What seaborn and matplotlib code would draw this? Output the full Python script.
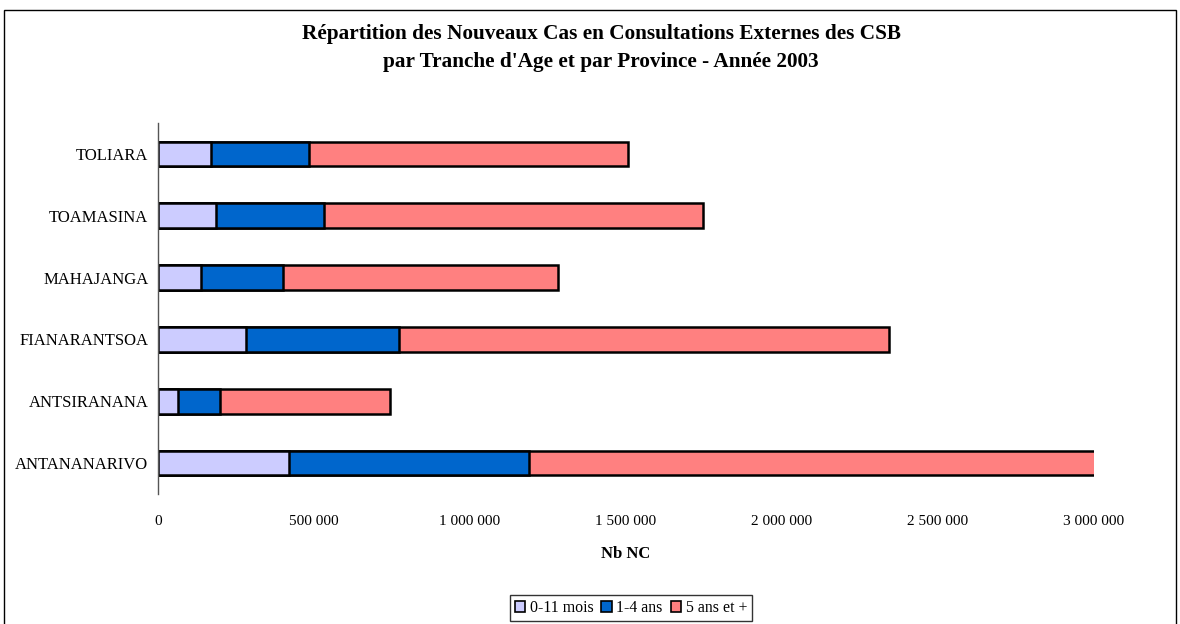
import numpy as np
import pandas as pd
import matplotlib
matplotlib.use("Agg")
import matplotlib.pyplot as plt
import matplotlib.patches as mpatches
import matplotlib.ticker as mticker
import seaborn as sns

# values (new cases per age group, 2003)
provinces = ["ANTANANARIVO", "ANTSIRANANA", "FIANARANTSOA", "MAHAJANGA", "TOAMASINA", "TOLIARA"]
mois_0_11 = [420000, 65000, 282000, 137000, 185000, 171000]
ans_1_4 = [770000, 134000, 490000, 263000, 346000, 313000]
ans_5_plus = [1830000, 545000, 1570000, 881000, 1215000, 1022000]

series_labels = ["0-11 mois", "1-4 ans", "5 ans et +"]
colors = ["#CCCCFF", "#0066CC", "#FF8080"]

df = pd.DataFrame({"province": provinces, "a": mois_0_11, "b": ans_1_4, "c": ans_5_plus})
df["cum_a"] = df.a
df["cum_b"] = df.a + df.b
df["cum_c"] = df.a + df.b + df.c

order = provinces[::-1]  # Excel draws the first category at the bottom

sns.set_theme(style="white")
plt.rcParams["font.family"] = ["Liberation Serif", "DejaVu Serif"]
plt.rcParams["text.color"] = "black"
plt.rcParams["xtick.color"] = "black"
plt.rcParams["ytick.color"] = "black"
plt.rcParams["axes.labelcolor"] = "black"

fig = plt.figure(figsize=(11.8, 6.24), dpi=100)
ax = fig.add_axes([158 / 1180, 1 - 494 / 624, 936 / 1180, 371 / 624])

# stacked bars: draw cumulative totals from largest to smallest
for col, color in zip(["cum_c", "cum_b", "cum_a"], colors[::-1]):
    sns.barplot(data=df, x=col, y="province", order=order, color=color,
                edgecolor="black", linewidth=1.8, width=0.4, ax=ax, saturation=1)

ax.set_xlim(0, 3000000)
ax.set_ylim(5.5, -0.5)
ax.xaxis.set_major_locator(mticker.MultipleLocator(500000))
ax.xaxis.set_major_formatter(
    mticker.FuncFormatter(lambda v, p: f"{int(v):,}".replace(",", " "))
)
ax.tick_params(axis="x", length=0, pad=15, labelsize=11)
ax.tick_params(axis="y", which="major", length=0, pad=7, labelsize=12)
ax.set_yticks(np.arange(-0.5, 6.0, 1.0), minor=True)
ax.tick_params(axis="y", which="minor", length=5, width=1, color="#555555", direction="out")
for s in ["top", "right", "bottom"]:
    ax.spines[s].set_visible(False)
ax.spines["left"].set_color("#555555")
ax.spines["left"].set_linewidth(1)
ax.set_ylabel("")
ax.set_xlabel("Nb NC", fontweight="bold", fontsize=12, labelpad=13)

fig.text(601 / 1180, 1 - 34 / 624, "Répartition des Nouveaux Cas en Consultations Externes des CSB",
         ha="center", va="center", fontsize=15.3, fontweight="bold")
fig.text(601 / 1180, 1 - 62 / 624, "par Tranche d'Age et par Province - Année 2003",
         ha="center", va="center", fontsize=15.3, fontweight="bold")

handles = [mpatches.Patch(facecolor=c, edgecolor="black", linewidth=1.2, label=l)
           for c, l in zip(colors, series_labels)]
leg = fig.legend(handles=handles, loc="center", bbox_to_anchor=(631 / 1180, 1 - 608 / 624),
                 ncol=3, fontsize=11.4, frameon=True, fancybox=False, handlelength=0.65,
                 handleheight=0.65, handletextpad=0.3, columnspacing=0.5, borderpad=0.3)
leg.get_frame().set_edgecolor("black")
leg.get_frame().set_linewidth(1)

# chart area border
fig.patches.append(mpatches.Rectangle((4 / 1180, -0.05), 1172 / 1180, 1.05 - 10 / 624,
                                      transform=fig.transFigure, fill=False,
                                      edgecolor="black", linewidth=1))

fig.savefig("out.png", dpi=100)
